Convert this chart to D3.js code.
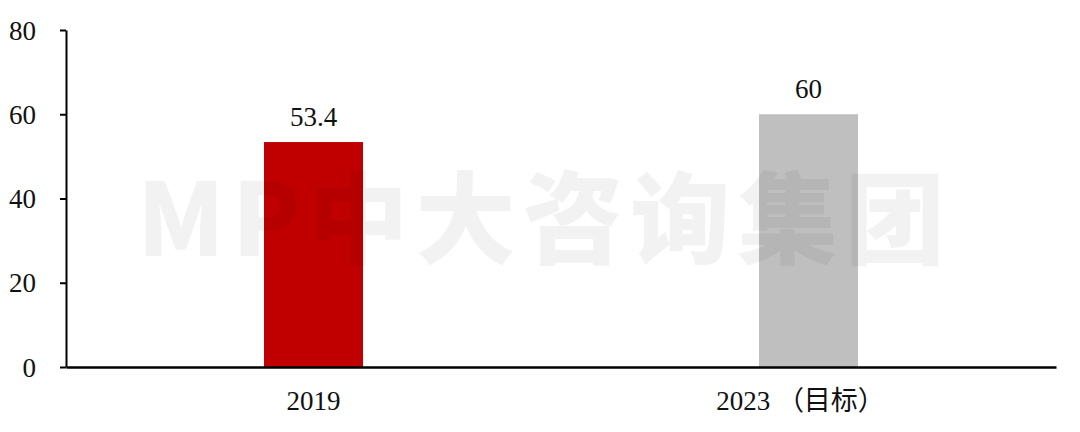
<!DOCTYPE html>
<html lang="zh">
<head>
    <meta charset="UTF-8">
    <title>Chart</title>
    <style>
        body{ margin: 0; background: #fff; }
        svg{ display: block; }
    </style>
    <script src="https://cdn.jsdelivr.net/npm/d3@7"></script>
</head>
<body>
<script>
    const width = 1080
    const height = 432

    // data
    const categories = ["2019", "2023（目标）"]
    const values = [53.4, 60]
    const barColors = ["#C00000", "#BFBFBF"]
    const yTicks = [0, 20, 40, 60, 80]

    const serif = "'Liberation Serif', 'Times New Roman', 'Noto Sans CJK SC', serif"

    let svg = d3.select("body").append("svg")
        .attr("width", width)
        .attr("height", height)

    //scales
    const x = d3.scaleBand()
        .domain(categories)
        .range([66, 1056])
        .paddingInner(0.8)
        .paddingOuter(0.4)
    const y = d3.scaleLinear()
        .domain([0, 80])
        .range([367, 30])

    //bars
    svg.selectAll(".bar")
        .data(values)
        .enter()
        .append("rect")
        .attr("class", "bar")
        .attr("x", (d, i) => x(categories[i]))
        .attr("width", x.bandwidth())
        .attr("y", d => y(d))
        .attr("height", d => y(0) - y(d))
        .attr("fill", (d, i) => barColors[i])

    //value labels
    svg.selectAll(".val")
        .data(values)
        .enter()
        .append("text")
        .style("font-family", serif)
        .style("font-size", "27px")
        .style("fill", "#111")
        .attr("x", (d, i) => x(categories[i]) + x.bandwidth() / 2)
        .attr("y", d => y(d) - 16)
        .attr("text-anchor", "middle")
        .text(d => d)

    //y axis
    let gy = svg.append("g")
        .attr("transform", "translate(66,0)")
        .call(d3.axisLeft(y).tickValues(yTicks).tickSize(6).tickPadding(24).tickSizeOuter(0))
    gy.select(".domain").attr("stroke", "#000").attr("stroke-width", 2)
    gy.selectAll(".tick line").attr("stroke", "#000").attr("stroke-width", 2)
    gy.selectAll(".tick text")
        .style("font-family", serif)
        .style("font-size", "27px")
        .style("fill", "#111")
        .attr("dy", "0.34em")

    //x axis
    let gx = svg.append("g")
        .attr("transform", `translate(0,${y(0)})`)
        .call(d3.axisBottom(x).tickSize(0).tickPadding(24).tickSizeOuter(0))
    gx.select(".domain").attr("stroke", "#000").attr("stroke-width", 2.5)
    gx.selectAll(".tick text")
        .style("font-family", serif)
        .style("font-size", "27px")
        .style("fill", "#111")
        .text(d => d.replace("（", " （"))
        .attr("dx", (d, i) => i === 1 ? -8 : 0)

    //watermark
    svg.append("text")
        .style("font-family", "'Noto Sans CJK SC', sans-serif")
        .style("font-weight", 900)
        .style("font-size", "100px")
        .attr("x", 137)
        .attr("y", 256)
        .attr("textLength", 808)
        .attr("lengthAdjust", "spacing")
        .attr("fill", "#000")
        .attr("fill-opacity", 0.05)
        .text("MP中大咨询集团")
</script>
</body>
</html>
